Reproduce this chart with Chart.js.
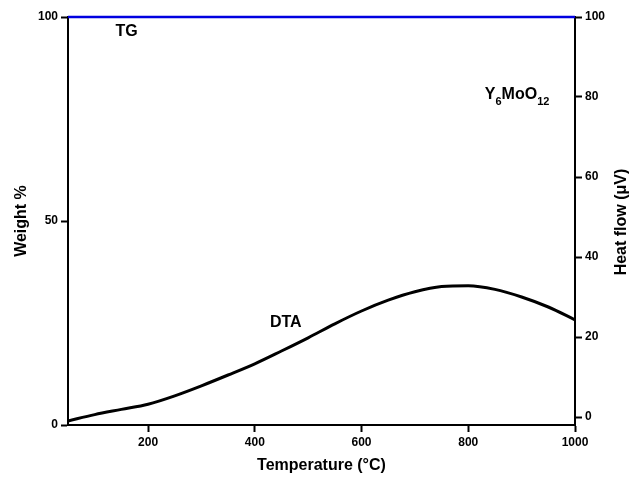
<!DOCTYPE html>
<html>
<head>
<meta charset="utf-8">
<script src="https://cdn.jsdelivr.net/npm/chart.js@4.4.1/dist/chart.umd.min.js"></script>
<style>
 html, body { margin: 0; padding: 0; background: #fff; }
 #wrap { width: 635px; height: 479px; }
</style>
</head>
<body>
<div id="wrap"><canvas id="thermoChart"></canvas></div>
<script>
// temperatures (°C) and readings
let temperature = [50, 100, 150, 200, 250, 300, 350, 400, 450, 500, 550, 600, 650, 700, 750, 800, 850, 900, 950, 1000];
let dtaSignal = [-1.0, 0.6, 1.9, 3.2, 5.3, 7.8, 10.5, 13.3, 16.5, 19.8, 23.3, 26.5, 29.2, 31.3, 32.6, 32.8, 31.9, 30.0, 27.5, 24.3];
let tgWeight = [100, 100, 100, 100, 100, 100, 100, 100, 100, 100, 100, 100, 100, 100, 100, 100, 100, 100, 100, 100];

let xTicks = [200, 400, 600, 800, 1000];
let weightTicks = [0, 50, 100];
let heatTicks = [0, 20, 40, 60, 80, 100];

const font = 'Liberation Sans, Arial, sans-serif';

function setTicks(list) {
 return function (scale) {
  scale.ticks = list.map(v => ({ value: v }));
 };
}

let axisStyle = {
 border: { display: true, color: '#000', width: 2 },
 grid: { drawOnChartArea: false, drawTicks: true, tickLength: 7, tickWidth: 2, tickColor: '#000' },
 ticks: {
  color: '#000',
  font: { family: font, size: 12, weight: 'bold' },
  padding: 3,
  callback: v => String(v)
 }
};

// text labels and the right axis title
let labelPlugin = {
 id: 'labels',
 afterDraw(chart) {
  let ctx = chart.ctx;
  let x = chart.scales.x, yL = chart.scales.yWeight, yR = chart.scales.yHeat;
  ctx.save();
  ctx.fillStyle = '#000';
  ctx.textBaseline = 'middle';
  ctx.font = 'bold 16px ' + font;
  ctx.textAlign = 'center';
  ctx.fillText('TG', x.getPixelForValue(160), yL.getPixelForValue(96.4));
  ctx.fillText('DTA', x.getPixelForValue(458), yR.getPixelForValue(23.5));

  // Y6MoO12 with subscripts
  ctx.textAlign = 'left';
  let px = x.getPixelForValue(831), py = yR.getPixelForValue(80.5);
  let parts = [['Y', false], ['6', true], ['MoO', false], ['12', true]];
  parts.forEach(p => {
   ctx.font = p[1] ? 'bold 11px ' + font : 'bold 16px ' + font;
   ctx.fillText(p[0], px, p[1] ? py + 7 : py);
   px += ctx.measureText(p[0]).width;
  });

  // right axis title reads bottom to top
  ctx.font = 'bold 16px ' + font;
  ctx.textAlign = 'center';
  ctx.translate(622, 222);
  ctx.rotate(-Math.PI / 2);
  ctx.fillText('Heat flow (\u03bcV)', 0, 0);
  ctx.restore();
 }
};

let ctx = document.getElementById('thermoChart').getContext('2d');
let chart = new Chart(ctx, {
 type: 'line',
 data: {
  labels: temperature,
  datasets: [
   {
    label: 'TG',
    data: temperature.map((t, i) => ({ x: t, y: tgWeight[i] })),
    yAxisID: 'yWeight',
    borderColor: '#0000e0',
    borderWidth: 2.5,
    pointRadius: 0,
    tension: 0,
    clip: false
   },
   {
    label: 'DTA',
    data: temperature.map((t, i) => ({ x: t, y: dtaSignal[i] })),
    yAxisID: 'yHeat',
    borderColor: '#000',
    borderWidth: 3,
    pointRadius: 0,
    cubicInterpolationMode: 'monotone'
   }
  ]
 },
 options: {
  responsive: true,
  maintainAspectRatio: false,
  animation: false,
  layout: { padding: { top: 17, left: 0, right: 0, bottom: 0 } },
  plugins: { legend: { display: false }, tooltip: { enabled: false } },
  scales: {
   x: {
    type: 'linear',
    min: 50,
    max: 1000,
    afterBuildTicks: setTicks(xTicks),
    afterFit(scale) { scale.height = 54; },
    ...axisStyle,
    title: { display: true, text: 'Temperature (\u00b0C)', color: '#000', font: { family: font, size: 16, weight: 'bold' }, padding: { top: 7 } }
   },
   yWeight: {
    position: 'left',
    min: 0,
    max: 100,
    afterBuildTicks: setTicks(weightTicks),
    afterFit(scale) { scale.width = 68; },
    ...axisStyle,
    title: { display: true, text: 'Weight %', color: '#000', font: { family: font, size: 16, weight: 'bold' }, padding: { top: 12, bottom: 4 } }
   },
   yHeat: {
    position: 'right',
    min: -2,
    max: 100,
    afterBuildTicks: setTicks(heatTicks),
    afterFit(scale) { scale.width = 60; },
    ...axisStyle
   }
  }
 },
 plugins: [labelPlugin]
});
</script>
</body>
</html>
